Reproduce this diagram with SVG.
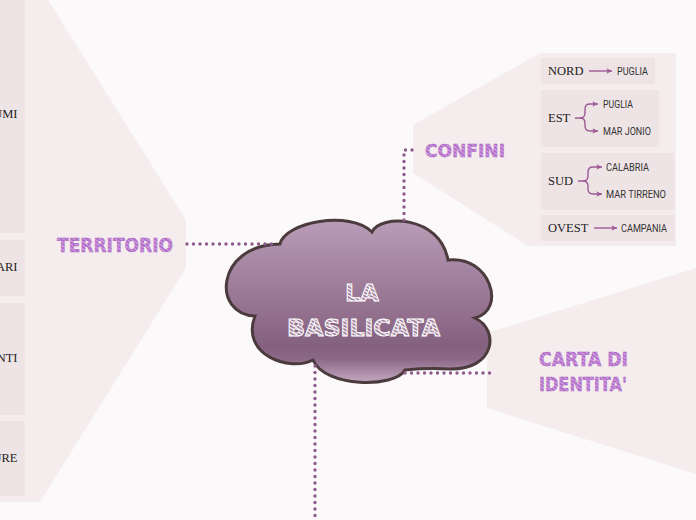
<svg xmlns="http://www.w3.org/2000/svg" width="696" height="520" viewBox="0 0 696 520">
<style>
.panel{fill:#f5eded}
.box{fill:#efe4e5}
.dots{fill:none;stroke:#8e5a8e;stroke-width:3.4;stroke-linecap:round;stroke-dasharray:0 6.5}
.arr{fill:none;stroke:#9c5a95;stroke-width:1.4;marker-end:url(#ah)}
.ser{font-family:"Liberation Serif","Times New Roman",serif;font-size:12.5px;fill:#222}
.sm{font-family:Roboto,"Liberation Sans",sans-serif;font-size:10px;fill:#333}
.lbl{font-family:"DejaVu Sans",Verdana,sans-serif;font-weight:bold;fill:url(#stripe);stroke:#a866c2;stroke-width:0.4}
.title{font-family:"DejaVu Sans",Verdana,sans-serif;font-weight:bold;fill:url(#wstripe);stroke:#ffffff;stroke-width:0.9}
</style>
<defs>
<pattern id="stripe" patternUnits="userSpaceOnUse" width="3" height="3" patternTransform="rotate(35)">
<rect width="3" height="3" fill="#b36fcb"/>
<rect width="3" height="1" fill="#d7a9e3"/>
</pattern>
<pattern id="wstripe" patternUnits="userSpaceOnUse" width="3" height="3" patternTransform="rotate(30)">
<rect width="3" height="3" fill="#9b7896"/>
<rect width="3" height="1.2" fill="#ffffff"/>
</pattern>
<linearGradient id="cg" x1="0" y1="0" x2="0" y2="1">
<stop offset="0" stop-color="#b99cb7"/>
<stop offset="0.78" stop-color="#84607f"/>
<stop offset="0.86" stop-color="#8e6a89"/>
<stop offset="1" stop-color="#c4a9c1"/>
</linearGradient>
<marker id="ah" viewBox="0 0 10 10" refX="9" refY="5" markerWidth="5" markerHeight="5" orient="auto" markerUnits="strokeWidth">
<path d="M1,1 L9,5 L1,9 L3,5 Z" fill="#9c5a95"/>
</marker>
</defs>
<rect width="696" height="520" fill="#fcf9fa"/>

<g id="territorio">
<polygon class="panel" points="0,0 48,0 186,220 186,268 40,502 0,502"/>
<rect class="box" x="0" y="0" width="25" height="233"/>
<rect class="box" x="0" y="240" width="25" height="56"/>
<rect class="box" x="0" y="303" width="25" height="112"/>
<rect class="box" x="0" y="421" width="25" height="75"/>
<text class="ser" x="17.5" y="118" text-anchor="end">UMI</text>
<text class="ser" x="17.5" y="271" text-anchor="end">ARI</text>
<text class="ser" x="17.5" y="362" text-anchor="end">NTI</text>
<text class="ser" x="17.5" y="462" text-anchor="end">URE</text>
<text class="lbl" x="57" y="252" font-size="20" textLength="116" lengthAdjust="spacingAndGlyphs">TERRITORIO</text>
</g>

<g id="confini">
<polygon class="panel" points="413,125 540,53 676,53 676,246 528,246 413,173"/>
<text class="lbl" x="425" y="157" font-size="18" textLength="80" lengthAdjust="spacingAndGlyphs">CONFINI</text>
<rect class="box" x="541" y="58" width="114" height="26"/>
<rect class="box" x="541" y="90" width="118" height="57"/>
<rect class="box" x="541" y="153" width="133" height="57"/>
<rect class="box" x="541" y="215" width="133" height="26"/>
<text class="ser" x="548" y="75">NORD</text>
<path class="arr" d="M589,71 H612"/>
<text class="sm" x="617" y="75" textLength="31" lengthAdjust="spacingAndGlyphs">PUGLIA</text>
<text class="ser" x="548" y="122">EST</text>
<path class="arr" d="M575,118 H580 Q585,118 585,113 V109 Q585,104 590,104 H598"/>
<path class="arr" d="M580,118 Q585,118 585,123 V126 Q585,131 590,131 H598"/>
<text class="sm" x="603" y="108" textLength="30" lengthAdjust="spacingAndGlyphs">PUGLIA</text>
<text class="sm" x="603" y="135" textLength="48" lengthAdjust="spacingAndGlyphs">MAR JONIO</text>
<text class="ser" x="548" y="185">SUD</text>
<path class="arr" d="M578,181 H583 Q588,181 588,176 V172 Q588,167 593,167 H602"/>
<path class="arr" d="M583,181 Q588,181 588,186 V189 Q588,194 593,194 H602"/>
<text class="sm" x="606" y="171" textLength="43" lengthAdjust="spacingAndGlyphs">CALABRIA</text>
<text class="sm" x="606" y="198" textLength="60" lengthAdjust="spacingAndGlyphs">MAR TIRRENO</text>
<text class="ser" x="548" y="232">OVEST</text>
<path class="arr" d="M594,228 H617"/>
<text class="sm" x="621" y="232" textLength="46" lengthAdjust="spacingAndGlyphs">CAMPANIA</text>
</g>

<g id="carta">
<polygon class="panel" points="487,333 696,268 696,474 487,408"/>
<text class="lbl" x="539" y="366" font-size="19" textLength="89" lengthAdjust="spacingAndGlyphs">CARTA DI</text>
<text class="lbl" x="539" y="391" font-size="19" textLength="88" lengthAdjust="spacingAndGlyphs">IDENTITA'</text>
</g>

<g id="basilicata">
<path d="M280,244 C285,222 350,210 372,232 C380,214 440,215 448,260 C490,255 507,310 475,318 C500,330 495,370 450,369 C430,368 415,369 405,370 C395,388 325,388 313,360 C290,372 240,355 255,316 C212,315 215,245 280,244 Z" fill="url(#cg)" stroke="#4b3b3d" stroke-width="3"/>
<text class="title" x="362" y="301" font-size="23" text-anchor="middle" textLength="34" lengthAdjust="spacingAndGlyphs">LA</text>
<text class="title" x="363.5" y="336" font-size="23" text-anchor="middle" textLength="153" lengthAdjust="spacingAndGlyphs">BASILICATA</text>
</g>

<g id="connectors">
<path class="dots" d="M187,244 H278"/>
<path class="dots" d="M404,220 V150 H417"/>
<path class="dots" d="M405,373 H490"/>
<path class="dots" d="M315,366 V520"/>
</g>
</svg>
